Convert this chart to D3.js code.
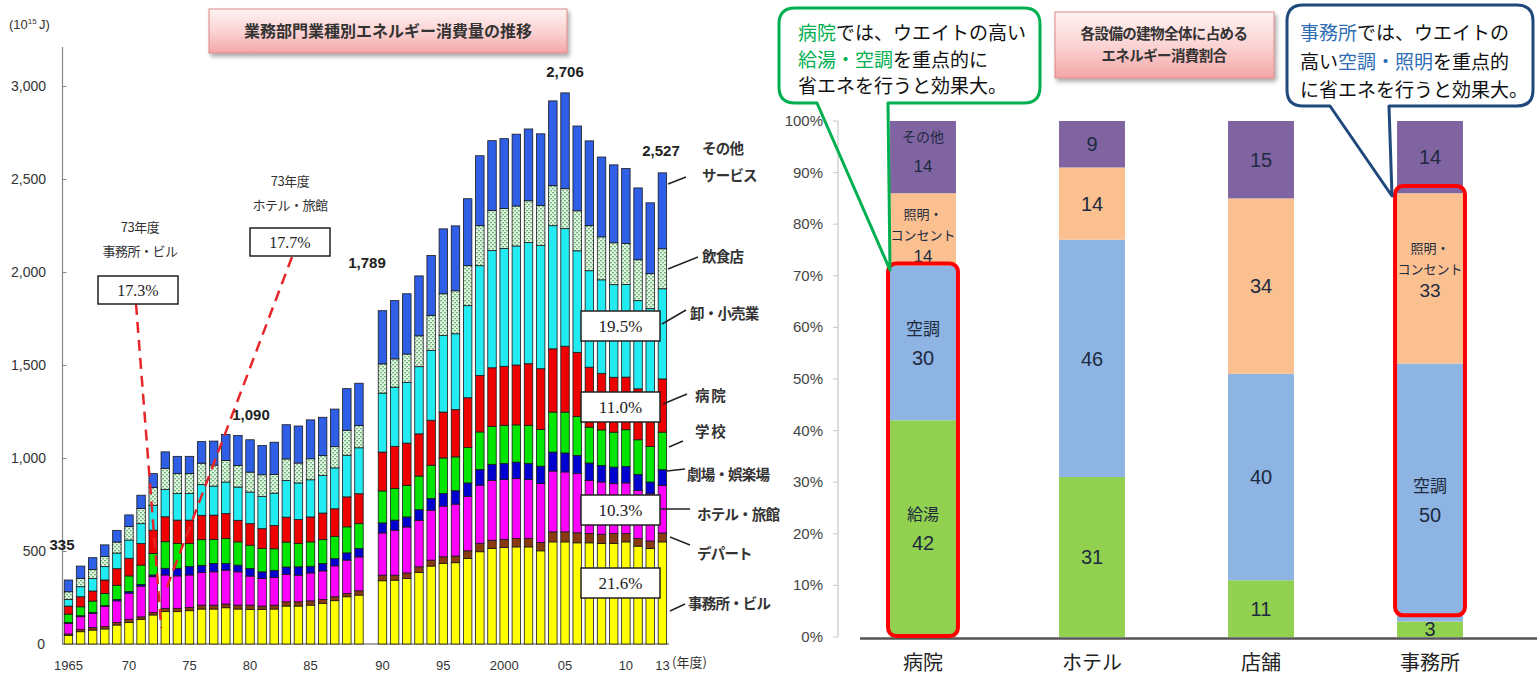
<!DOCTYPE html>
<html><head><meta charset="utf-8">
<script src="https://cdn.jsdelivr.net/npm/d3@7"></script>
<style>
body{margin:0;background:#fff;}
svg{display:block;}
</style></head><body>
<svg id="c" width="1537" height="675"></svg>
<script>
// ---------------- DATA: left chart (10^15 J) ----------------
const years = [1965,1966,1967,1968,1969,1970,1971,1972,1973,1974,1975,1976,1977,1978,1979,1980,1981,1982,1983,1984,1985,1986,1987,1988,1989,
               1990,1991,1992,1993,1994,1995,1996,1997,1998,1999,2000,2001,2002,2003,2004,2005,2006,2007,2008,2009,2010,2011,2012,2013];
const office     = [47,66,75,81,102,115,132,156,174,174,179,188,188,195,188,186,186,188,204,204,209,218,233,254,263, 340,343,352,385,419,433,437,460,496,513,519,522,522,501,549,549,544,544,540,540,549,526,513,549];
const dept       = [7,13,13,13,14,18,14,13,18,18,18,21,21,20,21,23,18,21,23,23,23,21,21,18,23, 30,27,30,30,32,36,36,41,45,45,43,45,45,45,54,54,54,50,50,54,45,41,41,48];
const hotel      = [57,68,77,107,116,140,165,193,179,174,174,175,179,182,179,156,148,148,148,143,150,154,166,179,182, 227,242,247,250,268,272,279,293,313,322,322,322,317,317,327,322,318,286,281,268,272,259,254,256];
const theater    = [5,5,5,5,7,9,9,9,36,41,45,39,45,36,36,41,36,39,39,45,36,39,39,39,45, 54,54,54,57,63,68,72,72,84,86,86,89,86,93,102,102,98,93,89,89,89,86,63,84];
const school     = [45,48,61,66,77,84,104,116,143,134,125,138,129,134,125,125,125,116,134,125,131,129,120,140,134, 172,170,170,181,179,191,182,190,202,204,206,200,206,197,215,220,209,193,191,188,197,186,191,202];
const hospital   = [43,54,54,72,89,95,116,125,134,125,125,131,131,134,116,116,107,125,134,129,134,143,148,161,161, 209,227,227,227,242,247,254,268,304,315,317,322,331,327,340,354,345,322,304,295,283,274,292,286];
const retail     = [36,54,68,72,84,98,107,134,147,143,143,166,156,170,179,170,174,174,197,197,200,202,220,224,247, 317,318,327,361,376,411,408,495,590,630,633,640,651,662,662,632,546,519,503,498,498,474,449,485];
const restaurant = [41,45,48,54,59,72,81,95,113,107,107,114,113,116,116,107,116,100,116,107,113,107,114,134,120, 157,152,152,166,188,225,231,215,215,215,215,215,225,215,215,215,215,242,231,225,220,220,188,215];
const other      = [63,66,63,63,63,63,72,75,89,93,93,116,129,140,161,174,157,174,184,199,209,206,202,224,227, 286,313,324,322,322,349,349,360,376,376,376,386,386,386,456,515,456,456,429,419,403,386,381,408];
const seriesNames = ["事務所・ビル","デパート","ホテル・旅館","劇場・娯楽場","学校","病院","卸・小売業","飲食店","その他サービス"];
const yTicks = [0,500,1000,1500,2000,2500,3000];
const xTickYears = [1965,1970,1975,1980,1985,1990,1995,2000,2005,2010,2013];
const xTickLabels = ["1965","70","75","80","85","90","95","2000","05","10","13"];
const totalLabels = [["335",1965],["1,090",1979],["1,789",1990],["2,706",2005],["2,527",2013]];
const shareLabels = ["19.5%","11.0%","10.3%","21.6%"];

// ---------------- DATA: right chart (%) ----------------
const facilities = ["病院","ホテル","店舗","事務所"];
const hotWater = [42,31,11,3];
const airCon   = [30,46,40,50];
const lighting = [14,14,34,33];
const others   = [14,9,15,14];
const pctTicks = [0,10,20,30,40,50,60,70,80,90,100];

// ---------------- SETUP ----------------
const svg = d3.select("#c");
const JP = "'Noto Sans CJK JP','Noto Sans',sans-serif";
const NUM = "'Liberation Sans Narrow','Liberation Sans',Arial,sans-serif";
const SERIF = "'Liberation Serif','DejaVu Serif',serif";
const defs = svg.append("defs");
const g1 = defs.append("linearGradient").attr("id","pink").attr("x1",0).attr("y1",0).attr("x2",0).attr("y2",1);
g1.append("stop").attr("offset","0%").attr("stop-color","#fff3f3");
g1.append("stop").attr("offset","55%").attr("stop-color","#fbd0d0");
g1.append("stop").attr("offset","100%").attr("stop-color","#f4a6a6");
const pat = defs.append("pattern").attr("id","pat").attr("patternUnits","userSpaceOnUse").attr("width",4).attr("height",4);
pat.append("rect").attr("width",4).attr("height",4).attr("fill","#e2f4e2");
pat.append("rect").attr("x",0).attr("y",0).attr("width",2).attr("height",1.3).attr("fill","#6cb67a");
pat.append("rect").attr("x",2).attr("y",2).attr("width",2).attr("height",1.3).attr("fill","#6cb67a");
const sh = defs.append("filter").attr("id","shadow").attr("x","-10%").attr("y","-20%").attr("width","130%").attr("height","160%");
sh.append("feDropShadow").attr("dx",2).attr("dy",3).attr("stdDeviation",2).attr("flood-color","#000").attr("flood-opacity",0.35);

// ---------------- LEFT CHART ----------------
const colors = ["#ffff00","#8a3a10","#ff00ff","#0000d0","#00e600","#ee0000","#22ecf2","url(#pat)","#2f5fe6"];
const seriesArr = [office,dept,hotel,theater,school,hospital,retail,restaurant,other];
const rows = years.map((yr,i)=>{const r={year:yr}; seriesNames.forEach((k,j)=>r[k]=seriesArr[j][i]); return r;});
const stack = d3.stack().keys(seriesNames)(rows);
const yearsA = years.filter(y=>y<1990), yearsB = years.filter(y=>y>=1990);
const xA = d3.scaleBand().domain(yearsA).range([62.4,365]).paddingInner(0.3).paddingOuter(0.15);
const xB = d3.scaleBand().domain(yearsB).range([376.4,668.5]).paddingInner(0.3).paddingOuter(0.15);
const xPos = yr => yr<1990 ? xA(yr) : xB(yr);
const bw = xA.bandwidth();
const xC = yr => xPos(yr)+bw/2;
const y = d3.scaleLinear().domain([0,3000]).range([644,86]);

const left = svg.append("g");
// axes
left.append("line").attr("x1",62.5).attr("x2",62.5).attr("y1",47).attr("y2",644).attr("stroke","#888").attr("stroke-width",1.2);
left.append("line").attr("x1",62).attr("x2",669).attr("y1",644).attr("y2",644).attr("stroke","#888").attr("stroke-width",1.5);
const yAxis = d3.axisRight(y).tickValues(yTicks.filter(t=>t>0)).tickSize(4).tickFormat("");
left.append("g").attr("transform","translate(62.5,0)").call(yAxis).call(g=>g.select(".domain").remove()).selectAll("line").attr("stroke","#888");
left.selectAll("text.yt").data(yTicks).join("text").attr("class","yt")
  .attr("x",d=>d===0?45:46).attr("y",d=>y(d)+5).attr("text-anchor","end")
  .attr("font-family",NUM).attr("font-size",14).attr("fill","#333").text(d=>d3.format(",")(d));
left.append("text").attr("x",9).attr("y",29).attr("font-family",NUM).attr("font-size",13).attr("fill","#333")
  .text("(10").append("tspan").attr("font-size",8).attr("dy",-5).text("15");
left.append("text").attr("x",39).attr("y",29).attr("font-family",NUM).attr("font-size",13).attr("fill","#333").text("J)");
left.selectAll("text.xt").data(xTickYears).join("text").attr("class","xt")
  .attr("x",d=>xC(d)).attr("y",670).attr("text-anchor","middle")
  .attr("font-family",NUM).attr("font-size",13).attr("fill","#333").text((d,i)=>xTickLabels[i]);
left.append("text").attr("x",672).attr("y",667).attr("font-family",JP).attr("font-size",13).attr("fill","#333").text("(年度)");

// bars
stack.forEach((s,si)=>{
  left.append("g").selectAll("rect").data(s).join("rect")
    .attr("x",d=>xPos(d.data.year)).attr("width",bw)
    .attr("y",d=>y(d[1])).attr("height",d=>y(d[0])-y(d[1]))
    .attr("fill",colors[si]).attr("stroke","#1a1a1a").attr("stroke-width",0.8);
});

// title box
left.append("rect").attr("x",209).attr("y",9).attr("width",358).attr("height",44)
  .attr("fill","url(#pink)").attr("stroke","#d88").attr("stroke-width",1).attr("filter","url(#shadow)");
left.append("text").attr("x",388).attr("y",37).attr("text-anchor","middle").attr("font-family",JP)
  .attr("font-size",16).attr("font-weight","bold").attr("fill","#333").text("業務部門業種別エネルギー消費量の推移");

// totals
const totalPos = {"335":[62,550],"1,090":[251,420],"1,789":[367,268],"2,706":[565,77],"2,527":[661,156]};
totalLabels.forEach(([t,yr])=>{
  const p = totalPos[t];
  left.append("text").attr("x",p[0]).attr("y",p[1]).attr("text-anchor","middle").attr("font-family",NUM)
    .attr("font-size",15).attr("font-weight","bold").attr("fill","#222").text(t);
});

// 73 annotations
function pctBox(g,x,yy,w,h,t,fs){
  g.append("rect").attr("x",x).attr("y",yy).attr("width",w).attr("height",h).attr("fill","#fff").attr("stroke","#222").attr("stroke-width",1.5);
  g.append("text").attr("x",x+w/2).attr("y",yy+h/2+6).attr("text-anchor","middle").attr("font-family",SERIF).attr("font-size",fs).attr("fill","#222").text(t);
}
const c73 = xC(1973);
left.append("line").attr("x1",136).attr("y1",304).attr("x2",c73-4).attr("y2",y(office[8]/2+0)).attr("stroke","#e8262a").attr("stroke-width",2.5).attr("stroke-dasharray","11,7");
left.append("line").attr("x1",292).attr("y1",257).attr("x2",c73).attr("y2",y(office[8]+dept[8]+hotel[8]*0.5)).attr("stroke","#e8262a").attr("stroke-width",2.5).attr("stroke-dasharray","11,7");
[["73年度",140,232],["事務所・ビル",140,256],["73年度",290,186],["ホテル・旅館",290,210]].forEach(a=>{
  left.append("text").attr("x",a[1]).attr("y",a[2]).attr("text-anchor","middle").attr("font-family",JP).attr("font-size",13).attr("letter-spacing",-0.5).attr("fill","#333").text(a[0]);
});
pctBox(left,98,276,80,28,"17.3%",16);
pctBox(left,250,228,80,28,"17.7%",16);

// right side share boxes
const boxY = [311,392,495,568];
shareLabels.forEach((t,i)=>pctBox(left,581,boxY[i],79,30,t,17));

// series labels with leaders
const sl = [
  {t:["その他","サービス"],x:702,y:[154,181],l:[668,184,686,177]},
  {t:["飲食店"],x:702,y:[262],l:[668,269,698,257]},
  {t:["卸・小売業"],x:690,y:[319],l:[662,324,686,310]},
  {t:["病 院"],x:695,y:[401],l:[663,404,687,394]},
  {t:["学 校"],x:695,y:[437],l:[669,447,683,441]},
  {t:["劇場・娯楽場"],x:687,y:[480],l:[667,471,685,469]},
  {t:["ホテル・旅館"],x:697,y:[520],l:[660,509,690,509]},
  {t:["デパート"],x:697,y:[559],l:[670,537,690,545]},
  {t:["事務所・ビル"],x:688,y:[609],l:[670,611,685,604]}
];
sl.forEach(s=>{
  left.append("line").attr("x1",s.l[0]).attr("y1",s.l[1]).attr("x2",s.l[2]).attr("y2",s.l[3]).attr("stroke","#222").attr("stroke-width",1.5);
  s.t.forEach((t,i)=>left.append("text").attr("x",s.x).attr("y",s.y[i]).attr("font-family",JP).attr("font-size",14.5)
    .attr("font-weight",600).attr("letter-spacing",-0.8).attr("fill","#333").text(t));
});

// ---------------- RIGHT CHART ----------------
const right = svg.append("g");
const xr = d3.scaleBand().domain(facilities).range([838.5,1514.5]).paddingInner(0.61).paddingOuter(0.305);
const yr = d3.scaleLinear().domain([0,100]).range([637,121]);
const rKeys = ["給湯","空調","照明・コンセント","その他"];
const rArr = [hotWater,airCon,lighting,others];
const rColors = ["#92d050","#8db4e2","#fac090","#8064a2"];
const rRows = facilities.map((f,i)=>{const r={f}; rKeys.forEach((k,j)=>r[k]=rArr[j][i]); return r;});
const rStack = d3.stack().keys(rKeys)(rRows);

right.append("line").attr("x1",838).attr("x2",838).attr("y1",121).attr("y2",637).attr("stroke","#c8c8c8").attr("stroke-width",1.2);
right.selectAll("line.tk").data(pctTicks).join("line").attr("class","tk").attr("x1",833).attr("x2",838).attr("y1",d=>yr(d)).attr("y2",d=>yr(d)).attr("stroke","#c8c8c8");
right.selectAll("text.pt").data(pctTicks).join("text").attr("class","pt").attr("x",823).attr("y",d=>yr(d)+5).attr("text-anchor","end")
  .attr("font-family",NUM).attr("font-size",15).attr("fill","#444").text(d=>d+"%");

rStack.forEach((s,si)=>{
  right.append("g").selectAll("rect").data(s).join("rect")
    .attr("x",d=>xr(d.data.f)).attr("width",xr.bandwidth())
    .attr("y",d=>yr(d[1])).attr("height",d=>yr(d[0])-yr(d[1])).attr("fill",rColors[si]);
});
right.append("line").attr("x1",860).attr("x2",1537).attr("y1",638.5).attr("y2",638.5).attr("stroke","#555").attr("stroke-width",2.5);
right.selectAll("text.cat").data(facilities).join("text").attr("class","cat").attr("x",d=>xr(d)+xr.bandwidth()/2).attr("y",670)
  .attr("text-anchor","middle").attr("font-family",JP).attr("font-size",20).attr("fill","#222").text(d=>d);

// in-bar labels
const nameShown = {"病院":[true,true,true,true],"事務所":[false,true,true,false]};
const TXT = "#1e2a40";
rStack.forEach((s,si)=>{
  s.forEach(d=>{
    const f = d.data.f, cx = xr(f)+xr.bandwidth()/2, v = d[1]-d[0];
    const show = nameShown[f] && nameShown[f][si];
    let lines;
    if(!show) lines=[{t:String(v),fs:20,fam:NUM}];
    else if(si===0) lines=[{t:"給湯",fs:16,fam:JP},{t:String(v),fs:20,fam:NUM}];
    else if(si===1) lines=[{t:"空調",fs:17,fam:JP},{t:String(v),fs:20,fam:NUM}];
    else if(si===2) lines=[{t:"照明・",fs:13,fam:JP},{t:"コンセント",fs:13,fam:JP},{t:String(v),fs:f==="病院"?17:19,fam:NUM}];
    else lines=[{t:"その他",fs:14,fam:JP},{t:String(v),fs:17,fam:NUM}];
    const lh = lines.length===3?21:29;
    let cy = (yr(d[0])+yr(d[1]))/2 - (lines.length-1)*lh/2;
    if(f==="事務所" && si===1) cy += 8;
    if(f==="事務所" && si===2) cy -= 9;
    if(f==="病院" && si===3) cy -= 6;
    if(f==="病院" && si===2) cy += 6;
    lines.forEach((L,i)=>right.append("text").attr("x",cx).attr("y",cy+i*lh+L.fs*0.36).attr("text-anchor","middle")
      .attr("font-family",L.fam).attr("font-size",L.fs).attr("fill",TXT).text(L.t));
  });
});

// red highlight boxes
function redBox(f,lo,hi){
  const x0 = xr(f)-2, w = xr.bandwidth()+4;
  right.append("rect").attr("x",x0).attr("y",yr(hi)-2).attr("width",w).attr("height",yr(lo)-yr(hi)+1)
    .attr("rx",8).attr("fill","none").attr("stroke","#ff0000").attr("stroke-width",4);
}
redBox("病院",0,hotWater[0]+airCon[0]);
redBox("事務所",hotWater[3]+1,hotWater[3]+airCon[3]+lighting[3]+1);

// title box right
right.append("rect").attr("x",1055).attr("y",12).attr("width",219).attr("height",66)
  .attr("fill","url(#pink)").attr("stroke","#d88").attr("stroke-width",1).attr("filter","url(#shadow)");
right.append("text").attr("x",1164).attr("y",39).attr("text-anchor","middle").attr("font-family",JP).attr("font-size",14.5).attr("font-weight",600).attr("letter-spacing",-0.6).attr("fill","#333").text("各設備の建物全体に占める");
right.append("text").attr("x",1164).attr("y",61).attr("text-anchor","middle").attr("font-family",JP).attr("font-size",14.5).attr("font-weight",600).attr("letter-spacing",-0.6).attr("fill","#333").text("エネルギー消費割合");

// callouts
function callout(x0,y0,x1,y1,r,t1,t2,apex,col){
  right.append("rect").attr("x",x0).attr("y",y0).attr("width",x1-x0).attr("height",y1-y0).attr("rx",r).attr("fill","#fff");
  const p = `M${x0+r},${y0} H${x1-r} Q${x1},${y0} ${x1},${y0+r} V${y1-r} Q${x1},${y1} ${x1-r},${y1} H${t2} L${apex[0]},${apex[1]} L${t1},${y1} H${x0+r} Q${x0},${y1} ${x0},${y1-r} V${y0+r} Q${x0},${y0} ${x0+r},${y0} Z`;
  right.append("path").attr("d",p).attr("fill","none").attr("stroke",col).attr("stroke-width",3).attr("stroke-linejoin","round");
}
callout(779,8,1040,103,16,817,888,[890,270],"#00b050");
callout(1287,5,1533,106,16,1330,1389,[1392,196],"#1f497d");
function richLine(x,yy,parts,col){
  const t = right.append("text").attr("x",x).attr("y",yy).attr("font-family",JP).attr("font-size",19).attr("fill","#111");
  parts.forEach(p=>t.append("tspan").attr("fill",p[1]?col:"#111").text(p[0]));
}
const GRN = "#00b050", BLU = "#2e6db4";
richLine(798,40,[["病院",1],["では、ウエイトの高い",0]],GRN);
richLine(798,67,[["給湯・空調",1],["を重点的に",0]],GRN);
richLine(798,93,[["省エネを行うと効果大。",0]],GRN);
richLine(1300,40,[["事務所",1],["では、ウエイトの",0]],BLU);
richLine(1300,69,[["高い",0],["空調・照明",1],["を重点的",0]],BLU);
richLine(1300,97,[["に省エネを行うと効果大。",0]],BLU);
</script>
</body></html>
